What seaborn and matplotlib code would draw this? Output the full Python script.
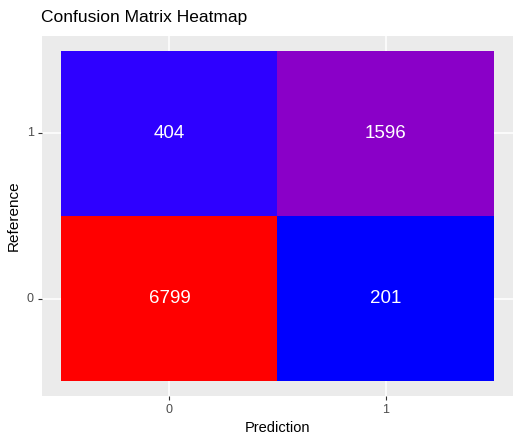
import matplotlib
matplotlib.use("Agg")
import matplotlib.pyplot as plt
from matplotlib.colors import LinearSegmentedColormap
import numpy as np
import pandas as pd
import seaborn as sns

# confusion matrix counts (rows = Reference, cols = Prediction)
reference = ["1", "0"]
prediction = ["0", "1"]
counts_ref1 = [404, 1596]
counts_ref0 = [6799, 201]

cm_df = pd.DataFrame([counts_ref1, counts_ref0], index=reference, columns=prediction)

plt.rcParams['font.family'] = ['Liberation Sans', 'DejaVu Sans']

# blue (low) -> red (high), roughly like ggplot's scale_fill_gradient
vmin, vmax = cm_df.values.min(), cm_df.values.max()
def pos(v):
    return (v - vmin) / (vmax - vmin)
cmap = LinearSegmentedColormap.from_list(
    "bluered",
    [(0.0, "#0000FF"), (pos(404), "#3300FF"), (pos(1596), "#8A00C8"), (1.0, "#FF0000")])

fig = plt.figure(figsize=(5.24, 4.48), dpi=100)
ax = fig.add_axes([0.080, 0.116, 0.899, 0.804])
ax.set_facecolor("#EBEBEB")

sns.heatmap(cm_df, ax=ax, cmap=cmap, vmin=vmin, vmax=vmax, cbar=False,
            annot=True, fmt="d",
            annot_kws={"color": "white", "fontsize": 13.5})

# white grid lines behind the tiles like ggplot
ax.set_axisbelow(True)
ax.grid(True, color="white", linewidth=1.1)
for c in ax.collections:
    c.set_zorder(2)
for t in ax.texts:
    t.set_zorder(3)

ax.set_xlim(-0.09, 2.09)
ax.set_ylim(2.09, -0.09)
for s in ax.spines.values():
    s.set_visible(False)

ax.tick_params(axis="both", colors="#333333", labelcolor="#4D4D4D",
               labelsize=9, length=3, width=0.8, pad=3)
ax.tick_params(axis="y", rotation=0)

ax.set_xlabel("Prediction", fontsize=10.5, color="black", labelpad=3)
ax.set_ylabel("Reference", fontsize=11, color="black", labelpad=4)
ax.set_title("Confusion Matrix Heatmap", loc="left", fontsize=12.5,
             x=-0.002, pad=10)

fig.savefig("out.png", dpi=100)
